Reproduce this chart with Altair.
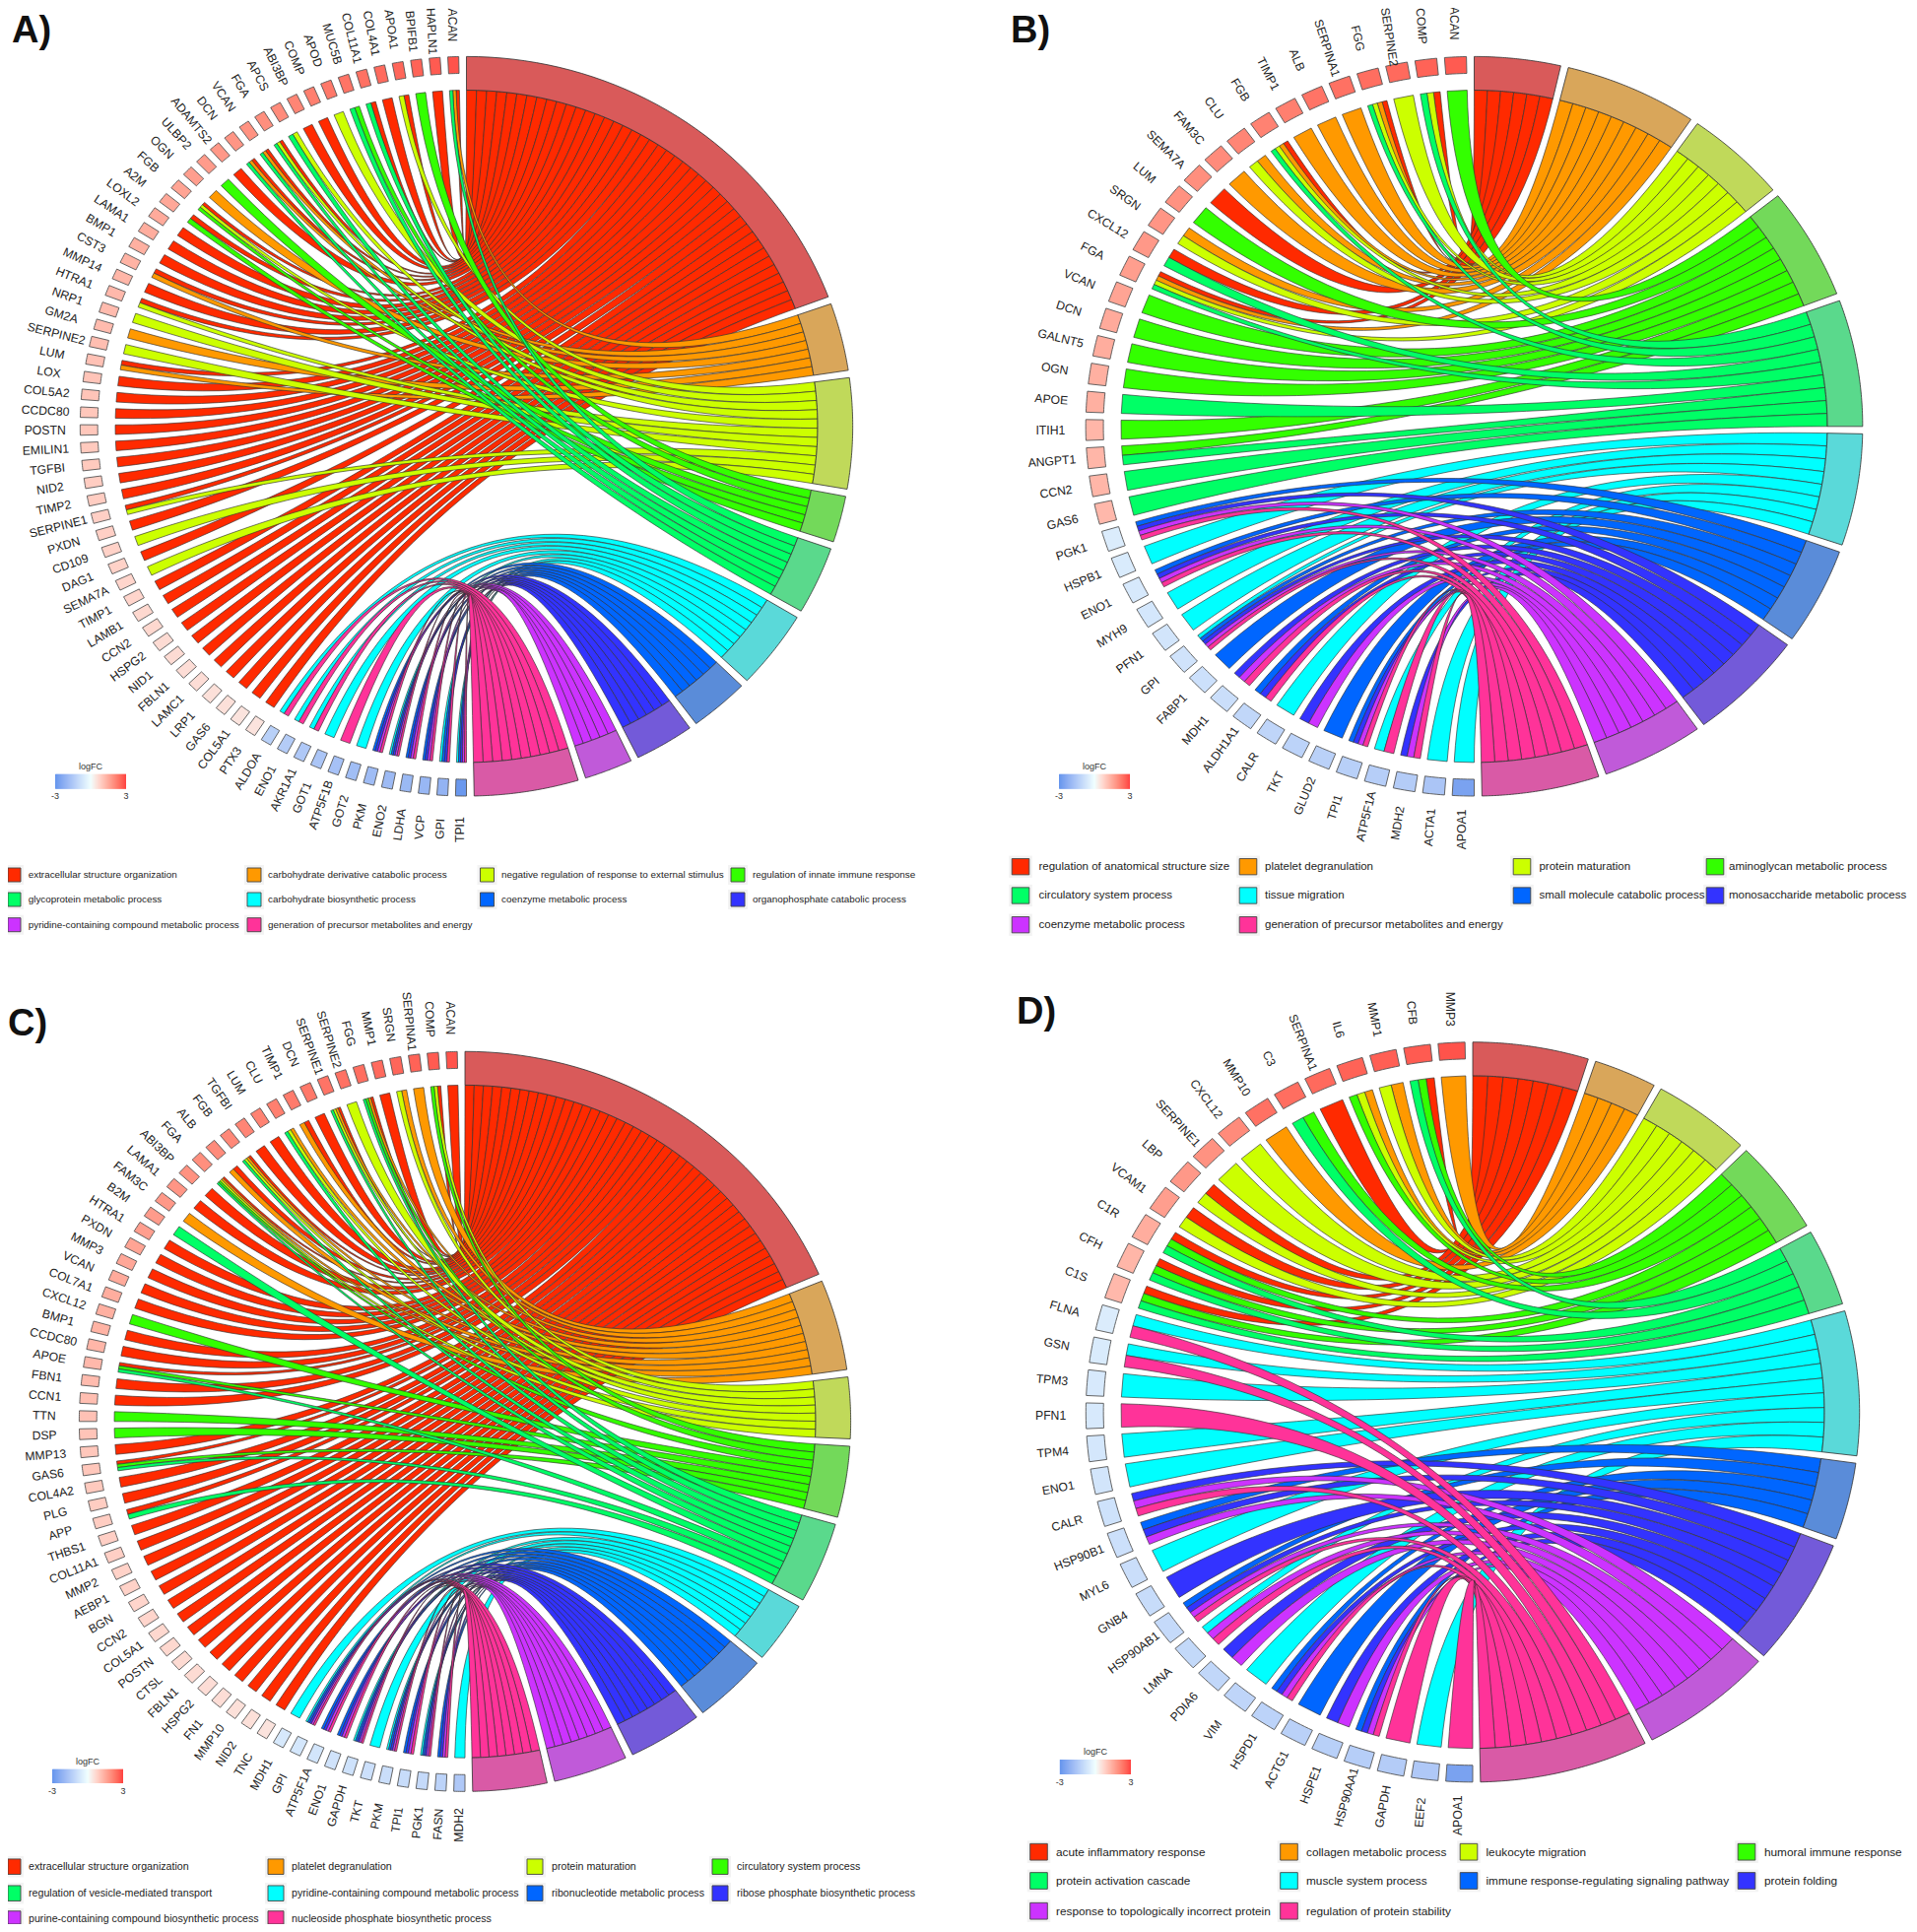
import math
import altair as alt

W, H = 1930, 1945
RIBBON_COL = {"R": "#FF2A00", "O": "#FF9900", "Y": "#CCFF00", "G": "#33FF00", "S": "#00FF66",
              "C": "#00FFFF", "B": "#0066FF", "I": "#3333FF", "P": "#CC33FF", "K": "#FF3399"}
BAND_COL = {"R": "#FF0000", "O": "#FF9900", "Y": "#CCFF00", "G": "#33FF00", "S": "#00FF66",
            "C": "#00FFFF", "B": "#0066FF", "I": "#3300FF", "P": "#CC00FF", "K": "#FF0099"}
ORDER = "ROYGSCBIPK"

GENES_A = ["ACAN","HAPLN1","BPIFB1","APOA1","COL4A1","COL11A1","MUC5B","APOD","COMP","ABI3BP","APCS","FGA","VCAN","DCN","ADAMTS2","ULBP2","OGN","FGB","A2M","LOXL2","LAMA1","BMP1","CST3","MMP14","HTRA1","NRP1","GM2A","SERPINE2","LUM","LOX","COL5A2","CCDC80","POSTN","EMILIN1","TGFBI","NID2","TIMP2","SERPINE1","PXDN","CD109","DAG1","SEMA7A","TIMP1","LAMB1","CCN2","HSPG2","NID1","FBLN1","LAMC1","LRP1","GAS6","COL5A1","PTX3","ALDOA","ENO1","AKR1A1","GOT1","ATP5F1B","GOT2","PKM","ENO2","LDHA","VCP","GPI","TPI1"]
MEMB_A = ["ROS","R","G","RY","R","RS","GS","Y","R","R","YS","RYS","ROS","ROS","R","G","O","RYG","RG","R","R","R","RO","R","RY","Y","O","Y","RO","R","R","R","R","R","R","R","R","RY","R","Y","R","Y","R","R","R","R","R","R","R","R","R","R","R","CK","CK","CK","C","K","C","BIPK","CBIPK","BIPK","BIPK","CBIK","CBIPK"]
LOGFC_A = [2.8,2.7,2.6,2.55,2.5,2.4,2.35,2.3,2.2,2.1,2.0,1.95,1.9,1.85,1.8,1.75,1.7,1.6,1.55,1.5,1.45,1.4,1.35,1.3,1.25,1.2,1.2,1.15,1.1,1.05,1.05,1.0,1.0,.95,.95,.9,.9,.85,.85,.8,.8,.75,.75,.7,.7,.65,.65,.6,.6,.55,.55,.5,.5,-1.3,-1.4,-1.5,-1.6,-1.7,-1.8,-1.85,-1.9,-1.95,-2.0,-2.1,-2.9]
TERMS_A = ["extracellular structure organization","carbohydrate derivative catabolic process","negative regulation of response to external stimulus","regulation of innate immune response","glycoprotein metabolic process","carbohydrate biosynthetic process","coenzyme metabolic process","organophosphate catabolic process","pyridine-containing compound metabolic process","generation of precursor metabolites and energy"]

GENES_B = ["ACAN","COMP","SERPINE2","FGG","SERPINA1","ALB","TIMP1","FGB","CLU","FAM3C","SEMA7A","LUM","SRGN","CXCL12","FGA","VCAN","DCN","GALNT5","OGN","APOE","ITIH1","ANGPT1","CCN2","GAS6","PGK1","HSPB1","ENO1","MYH9","PFN1","GPI","FABP1","MDH1","ALDH1A1","CALR","TKT","GLUD2","TPI1","ATP5F1A","MDH2","ACTA1","APOA1"]
MEMB_B = ["G","RYS","Y","ROYS","O","O","O","ROYS","OY","O","R","G","OY","RS","ROYS","G","G","G","G","S","G","GS","S","S","BIPK","C","BIPK","C","C","CBIPK","B","IPK","BIK","C","IP","B","BIPK","CK","IPK","C","C"]
LOGFC_B = [2.7,2.6,2.5,2.45,2.4,2.35,2.2,2.15,2.1,2.0,1.95,1.9,1.85,1.8,1.7,1.6,1.5,1.45,1.4,1.4,1.3,1.3,1.3,1.25,-.5,-.55,-.6,-.65,-.7,-.75,-.85,-.9,-1.1,-1.15,-1.2,-1.25,-1.3,-1.35,-1.4,-1.6,-2.6]
TERMS_B = ["regulation of anatomical structure size","platelet degranulation","protein maturation","aminoglycan metabolic process","circulatory system process","tissue migration","small molecule catabolic process","monosaccharide metabolic process","coenzyme metabolic process","generation of precursor metabolites and energy"]

GENES_C = ["ACAN","COMP","SERPINA1","SRGN","MMP1","FGG","SERPINE2","SERPINE1","DCN","TIMP1","CLU","LUM","TGFBI","FGB","ALB","FGA","ABI3BP","LAMA1","FAM3C","B2M","HTRA1","PXDN","MMP3","VCAN","COL7A1","CXCL12","BMP1","CCDC80","APOE","FBN1","CCN1","TTN","DSP","MMP13","GAS6","COL4A2","PLG","APP","THBS1","COL11A1","MMP2","AEBP1","BGN","CCN2","COL5A1","POSTN","CTSL","FBLN1","HSPG2","FN1","MMP10","NID2","TNC","MDH1","GPI","ATP5F1A","ENO1","GAPDH","TKT","PKM","TPI1","PGK1","FASN","MDH2"]
MEMB_C = ["R","RYG","O","OY","R","ROGS","Y","ROYS","R","RO","OYS","R","R","ROYS","RO","ROYGS","R","R","O","S","R","R","R","R","R","G","R","R","RGS","R","R","G","G","R","RGS","R","R","RS","R","R","R","R","R","R","R","R","R","R","R","R","R","R","R","C","CBIPK","BIPK","BIPK","CBIPK","C","CBIPK","BIPK","CBIPK","BIPK","C"]
LOGFC_C = [2.8,2.7,2.6,2.55,2.5,2.45,2.4,2.35,2.3,2.25,2.2,2.15,2.1,2.05,2.0,1.95,1.9,1.85,1.8,1.75,1.7,1.6,1.55,1.5,1.45,1.4,1.35,1.3,1.25,1.2,1.15,1.1,1.05,1.0,1.0,.95,.9,.9,.85,.85,.8,.8,.75,.75,.7,.7,.65,.65,.6,.6,.55,.55,.5,-.6,-.65,-.7,-.75,-.8,-.85,-.9,-.95,-1.0,-1.2,-1.5]
TERMS_C = ["extracellular structure organization","platelet degranulation","protein maturation","circulatory system process","regulation of vesicle-mediated transport","pyridine-containing compound metabolic process","ribonucleotide metabolic process","ribose phosphate biosynthetic process","purine-containing compound biosynthetic process","nucleoside phosphate biosynthetic process"]

GENES_D = ["MMP3","CFB","MMP1","IL6","SERPINA1","C3","MMP10","CXCL12","SERPINE1","LBP","VCAM1","C1R","CFH","C1S","FLNA","GSN","TPM3","PFN1","TPM4","ENO1","CALR","HSP90B1","MYL6","GNB4","HSP90AB1","LMNA","PDIA6","VIM","HSPD1","ACTG1","HSPE1","HSP90AA1","GAPDH","EEF2","APOA1"]
MEMB_D = ["O","RGS","OY","OYG","R","GS","O","Y","Y","RY","RY","RGS","RGS","RGS","CK","CK","C","K","C","C","IPK","BIP","C","I","BIPK","CPK","IP","C","BIPK","B","IP","BIPK","K","C","K"]
LOGFC_D = [2.8,2.7,2.65,2.6,2.5,2.45,2.4,2.0,1.9,1.8,1.7,1.45,1.3,1.25,-.5,-.55,-.6,-.6,-.65,-.7,-.8,-.85,-.9,-.95,-1.0,-1.05,-1.1,-1.15,-1.2,-1.25,-1.3,-1.35,-1.4,-1.5,-2.6]
TERMS_D = ["acute inflammatory response","collagen metabolic process","leukocyte migration","humoral immune response","protein activation cascade","muscle system process","immune response-regulating signaling pathway","protein folding","response to topologically incorrect protein","regulation of protein stability"]

# layout: centre, radii (inner ribbon ring), title, legend geometry (page pixels)
PANELS = [
    dict(name="A)", genes=GENES_A, memb=MEMB_A, lfc=LOGFC_A, terms=TERMS_A, cx=473.5, cy=432.7, rx=356.5, ry=341.2,
         title=(12, 43), keyx=[14, 258, 494.5, 749], textx=[28.7, 272, 509, 764], rows=[888, 913, 938.7], keyw=14, keyh=14, fs=9.9,
         bar=(56, 128, 785.7, 800.7), lab_y=778, tick_y=808),
    dict(name="B)", genes=GENES_B, memb=MEMB_B, lfc=LOGFC_B, terms=TERMS_B, cx=1496.5, cy=432.7, rx=358.5, ry=341.2,
         title=(1026, 43), keyx=[1036, 1267, 1545, 1741], textx=[1054.5, 1284, 1562.4, 1755], rows=[879.7, 909, 938.7], keyw=17.6, keyh=16.3, fs=11.5,
         bar=(1075, 1147, 785.7, 800.7), lab_y=778, tick_y=808),
    dict(name="C)", genes=GENES_C, memb=MEMB_C, lfc=LOGFC_C, terms=TERMS_C, cx=472, cy=1442.8, rx=356, ry=341.4,
         title=(8, 1051), keyx=[13, 280, 543, 731], textx=[29, 296, 560, 748], rows=[1894.7, 1921.7, 1947.5], keyw=16, keyh=15.5, fs=10.65,
         bar=(53, 125, 1795.7, 1810), lab_y=1788, tick_y=1818),
    dict(name="D)", genes=GENES_D, memb=MEMB_D, lfc=LOGFC_D, terms=TERMS_D, cx=1495, cy=1433.3, rx=357, ry=341.4,
         title=(1032, 1039), keyx=[1054.5, 1308.5, 1491, 1773], textx=[1072, 1326, 1508.5, 1791], rows=[1879.7, 1909, 1939.7], keyw=17.6, keyh=16.7, fs=11.8,
         bar=(1075.8, 1148, 1786, 1801), lab_y=1778, tick_y=1809),
]
# labels that would run above the page's 8px margin are pulled down by this many pixels
LABEL_NUDGE = {("A)", "HAPLN1"): 7, ("A)", "BPIFB1"): 5, ("A)", "ACAN"): 2, ("B)", "SERPINE2"): 6}
SPACE = 0.02
R1, R2, RG, RL = 1.0, 1.1, 1.05, 1.2
STEPS = 40
ARC_N = 40
M = 8  # page margin


def poly(points, **props):
    ring = [[round(min(max(x - M, 0), W), 2), round(min(max(y - M, 0), H), 2)] for x, y in points]
    ring.append(ring[0])
    return {"type": "Feature", "geometry": {"type": "Polygon", "coordinates": [ring]}, "properties": props}


def rect(x0, x1, y0, y1, **props):
    return poly([(x0, y0), (x1, y0), (x1, y1), (x0, y1)], **props)


def blend(hexcol, alpha=0.5, base=179):
    rgb = [int(hexcol[i:i + 2], 16) for i in (1, 3, 5)]
    return "#%02X%02X%02X" % tuple(round(alpha * c + (1 - alpha) * base) for c in rgb)


ribbons, term_arcs, gene_rects, ramp, keys, halos = [], [], [], [], [], []
gene_text, legend_text, small_text, title_text = [], [], [], []

for p in PANELS:
    cx, cy, rx, ry = p["cx"], p["cy"], p["rx"], p["ry"]
    pt = lambda r, a: (cx + rx * r * math.sin(a), cy - ry * r * math.cos(a))
    n = len(p["genes"])
    nrib = {t: sum(t in m for m in p["memb"]) for t in ORDER}
    total = sum(nrib.values())
    # term sectors
    start = 0.0
    term_edges = {}
    for t in ORDER:
        width = math.pi * nrib[t] / total
        end = start + width - SPACE
        ang = [start + (end - start) * i / ARC_N for i in range(ARC_N + 1)]
        term_arcs.append(poly([pt(R1, a) for a in ang] + [pt(R2, a) for a in reversed(ang)], fill=blend(BAND_COL[t])))
        term_edges[t] = [start + (end - start) * i / max(nrib[t], 1) for i in range(nrib[t] + 1)]
        start += width
    # genes
    x2 = [-SPACE + (-math.pi + math.pi / n) * i / (n - 1) for i in range(n)]
    xw = -math.pi / n + SPACE
    gene_slots = {t: [] for t in ORDER}
    for i, g in enumerate(p["genes"]):
        a0, a1 = x2[i], x2[i] + xw
        ang = [a0 + (a1 - a0) * k / 6 for k in range(7)]
        gene_rects.append(poly([pt(RG, a) for a in ang] + [pt(R2, a) for a in reversed(ang)], logFC=p["lfc"][i]))
        mid = (a0 + a1) / 2
        lx, ly = pt(RL, mid)
        ly += LABEL_NUDGE.get((p["name"], g), 0)
        o = 180 * i / (n - 1)
        gene_text.append({"x": lx - M, "y": ly - M, "label": g, "angle": (90 - o) % 360})
        m = p["memb"][i]
        for j, t in enumerate(m):
            gene_slots[t].append((a0 + (a1 - a0) * j / len(m), a0 + (a1 - a0) * (j + 1) / len(m)))
    # ribbons (term order, later terms on top)
    for t in ORDER:
        for v, (ga, gb) in enumerate(gene_slots[t]):
            ta, tb = term_edges[t][v], term_edges[t][v + 1]
            c1, c2 = [], []
            for s in range(STEPS + 1):
                u = s / STEPS
                k0, k1 = (1 - u) ** 2, u ** 2
                c1.append((cx + rx * (k0 * math.sin(ta) + k1 * math.sin(ga)), cy - ry * (k0 * math.cos(ta) + k1 * math.cos(ga))))
                c2.append((cx + rx * (k0 * math.sin(tb) + k1 * math.sin(gb)), cy - ry * (k0 * math.cos(tb) + k1 * math.cos(gb))))
            ribbons.append(poly(c1 + c2[::-1], fill=RIBBON_COL[t]))
    # term legend
    for i, (t, label) in enumerate(zip(ORDER, p["terms"])):
        col, row = i % 4, i // 4
        kx, ky = p["keyx"][col], p["rows"][row]
        halos.append(rect(kx - p["keyw"] / 2 - 3, kx + p["keyw"] / 2 + 3, ky - p["keyh"] / 2 - 3, ky + p["keyh"] / 2 + 3))
        keys.append(rect(kx - p["keyw"] / 2, kx + p["keyw"] / 2, ky - p["keyh"] / 2, ky + p["keyh"] / 2, fill=RIBBON_COL[t]))
        legend_text.append({"x": p["textx"][col] - M, "y": ky - M, "label": label, "size": p["fs"]})
    # logFC colour bar
    x0, x1, y0, y1 = p["bar"]
    cells = 72
    for c in range(cells):
        a = x0 + (x1 - x0) * c / cells
        b = x0 + (x1 - x0) * (c + 1) / cells
        ramp.append(rect(a, b + (0.6 if c < cells - 1 else 0), y0, y1, logFC=-3 + 6 * (c + 0.5) / cells))
    small_text.append({"x": (x0 + x1) / 2 - M, "y": p["lab_y"] - M, "label": "logFC"})
    small_text.append({"x": x0 - M, "y": p["tick_y"] - M, "label": "-3"})
    small_text.append({"x": x1 - M, "y": p["tick_y"] - M, "label": "3"})
    title_text.append({"x": p["title"][0] - M, "y": p["title"][1] - M, "label": p["name"]})

PROJ = dict(type="identity", scale=1, translate=[0, 0])
LFC_SCALE = alt.Scale(domain=[-3, 0, 3], range=["#6495ED", "#F0FFFF", "#FF4040"], interpolate="lab", clamp=True)
FILL = alt.Fill("properties.fill:N", scale=None)
LFC = alt.Fill("properties.logFC:Q", scale=LFC_SCALE, legend=None)
X = alt.X("x:Q", scale=alt.Scale(domain=[0, W], nice=False), axis=None)
Y = alt.Y("y:Q", scale=alt.Scale(domain=[H, 0], nice=False), axis=None)

ribbon_l = alt.Chart(alt.Data(values=ribbons)).mark_geoshape(stroke="#303030", strokeWidth=0.65).encode(fill=FILL).project(**PROJ)
term_l = alt.Chart(alt.Data(values=term_arcs)).mark_geoshape(stroke="#303030", strokeWidth=0.8).encode(fill=FILL).project(**PROJ)
gene_l = alt.Chart(alt.Data(values=gene_rects)).mark_geoshape(stroke="#555555", strokeWidth=0.9).encode(fill=LFC).project(**PROJ)
ramp_l = alt.Chart(alt.Data(values=ramp)).mark_geoshape().encode(fill=LFC).project(**PROJ)
halo_l = alt.Chart(alt.Data(values=halos)).mark_geoshape(fill="#F3F3F3").project(**PROJ)
key_l = alt.Chart(alt.Data(values=keys)).mark_geoshape(stroke="#444444", strokeWidth=0.9).encode(fill=FILL).project(**PROJ)

FONT = "Liberation Sans"
gene_t = alt.Chart(alt.Data(values=gene_text)).mark_text(font=FONT, fontSize=12.2, color="#222222", align="center", baseline="middle").encode(
    x=X, y=Y, text="label:N", angle=alt.Angle("angle:Q", scale=None))
legend_t = alt.Chart(alt.Data(values=legend_text)).mark_text(font=FONT, color="#222222", align="left", baseline="middle").encode(
    x=X, y=Y, text="label:N", size=alt.Size("size:Q", scale=None, legend=None))
small_t = alt.Chart(alt.Data(values=small_text)).mark_text(font=FONT, fontSize=9, color="#333333", align="center", baseline="middle").encode(
    x=X, y=Y, text="label:N")
title_t = alt.Chart(alt.Data(values=title_text)).mark_text(font=FONT, fontSize=38, fontWeight="bold", color="#111111", align="left", baseline="alphabetic").encode(
    x=X, y=Y, text="label:N")

chart = alt.layer(ribbon_l, term_l, gene_l, ramp_l, halo_l, key_l, gene_t, legend_t, small_t, title_t).resolve_scale(
    fill="independent"
).properties(width=W, height=H, padding=0, background="#FFFFFF",
             autosize=alt.AutoSizeParams(type="none")).configure_view(stroke=None)
chart.save("out.html", embed_options={"renderer": "svg", "actions": False})
